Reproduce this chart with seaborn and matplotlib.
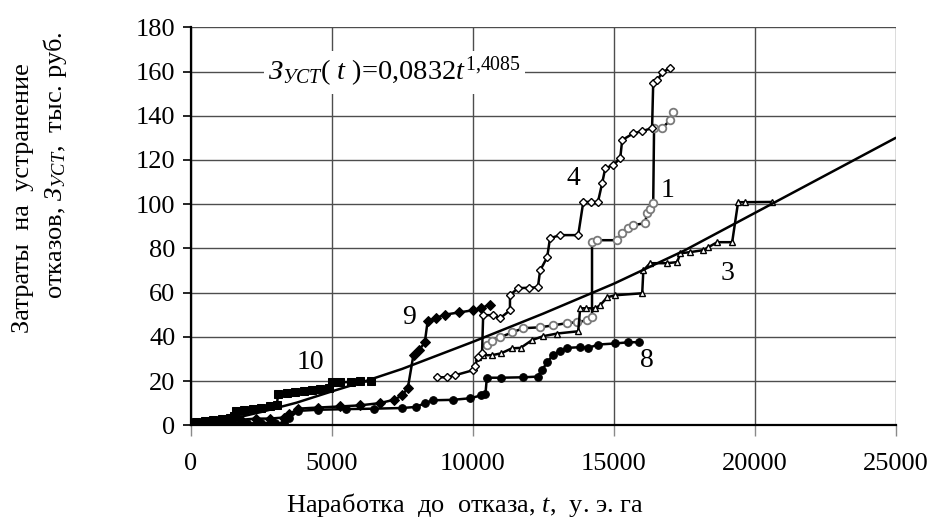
import matplotlib
matplotlib.use("Agg")
import matplotlib.pyplot as plt
import seaborn as sns

# Operating time to failure (conv. units) and cumulative repair costs (thousand rub.)
x1 = [10500, 10700, 10970, 11400, 11790, 12390, 12860, 13350, 13700, 14060, 14230, 14230, 14410,
      15120, 15300, 15500, 15690, 16110, 16180, 16300, 16400, 16430, 16720, 17000, 17110]
y1 = [36.5, 38.0, 39.8, 42.0, 43.9, 44.3, 45.2, 46.2, 46.6, 47.5, 48.9, 82.8, 83.7,
      83.7, 86.9, 89.0, 90.5, 91.4, 95.9, 98.0, 100.5, 134.4, 134.4, 138.0, 141.6]

x3 = [10200, 10370, 10680, 11000, 11390, 11700, 12100, 12500, 13000, 13740, 13810, 14000, 14340,
      14520, 14770, 15050, 16010, 16050, 16290, 16890, 17250, 17360, 17710, 18170, 18350,
      18670, 19200, 19410, 19660, 20600]
y3 = [30.8, 31.7, 31.7, 32.5, 34.8, 35.0, 38.5, 40.3, 41.5, 42.5, 52.9, 52.9, 52.9,
      54.3, 57.9, 58.8, 59.7, 70.0, 73.3, 73.3, 73.8, 77.8, 78.3, 79.2, 80.5,
      82.8, 82.8, 100.9, 100.9, 101.0]

x4 = [8730, 9080, 9370, 10010, 10080, 10190, 10330, 10370, 10720, 10970, 11320, 11320,
      11600, 12000, 12310, 12390, 12640, 12740, 13100, 13740, 13920, 14200, 14440, 14590,
      14700, 14980, 15230, 15300, 15690, 16000, 16360, 16400, 16550, 16720, 17000]
y4 = [21.7, 21.7, 22.6, 24.9, 27.0, 30.8, 32.6, 49.8, 49.8, 48.4, 52.0, 58.8,
      62.0, 62.2, 62.4, 70.0, 76.0, 84.6, 86.0, 86.0, 101.0, 101.0, 101.0, 109.5,
      116.3, 117.6, 120.8, 129.0, 132.0, 133.0, 134.4, 155.0, 156.0, 159.7, 161.5]

x8 = [400, 900, 1500, 2000, 2500, 3000, 3300, 3500, 3800, 4500, 5500, 6500, 7500, 8000,
      8300, 8600, 9300, 9900, 10300, 10450, 10500, 11000, 11800, 12300, 12450, 12650,
      12850, 13100, 13350, 13800, 14100, 14450, 15050, 15500, 15900]
y8 = [1.0, 1.5, 1.0, 0.8, 1.0, 1.0, 1.0, 3.5, 6.5, 7.0, 7.3, 7.5, 7.8, 8.3,
      10.0, 11.3, 11.5, 12.2, 13.5, 14.0, 21.5, 21.5, 21.7, 22.0, 25.0, 28.5,
      32.0, 33.5, 35.0, 35.3, 35.0, 36.5, 37.0, 37.5, 37.6]

x9 = [300, 800, 1300, 1800, 2300, 2800, 3300, 3500, 3800, 4500, 5300, 6000, 6700, 7200,
      7500, 7700, 7900, 8100, 8300, 8400, 8700, 9000, 9500, 10000, 10300, 10600]
y9 = [1.0, 1.5, 2.0, 2.5, 3.0, 3.0, 3.5, 5.0, 7.5, 8.0, 8.5, 9.0, 10.0, 11.5,
      13.5, 17.0, 32.0, 34.0, 37.5, 47.0, 48.5, 50.0, 51.0, 52.0, 53.0, 54.5]

x10 = [200, 500, 800, 1100, 1400, 1550, 1600, 1900, 2200, 2500, 2800, 3050, 3100, 3400,
       3700, 4000, 4300, 4600, 4900, 5000, 5300, 5700, 6000, 6400]
y10 = [1.5, 2.0, 2.5, 3.0, 3.5, 4.0, 6.5, 7.0, 7.5, 8.0, 8.5, 9.0, 14.0, 14.5,
       15.0, 15.5, 16.0, 16.5, 17.0, 19.5, 19.5, 19.5, 19.8, 19.8]

# Power-law trend curve
t_trend = [0, 1250, 2500, 3750, 5000, 6250, 7500, 10000, 12500, 15000, 17500, 20000, 22500, 25000]
z_trend = [0, 2.3, 6.0, 10.2, 15.3, 20.2, 25.5, 37.7, 50.5, 64.0, 79.0, 96.0, 113.0, 130.0]

series_names = ["1", "3", "4", "8", "9", "10"]
label_x = [16926, 19018, 13557, 16181, 7741, 4231]
label_y = [106.3, 68.8, 111.8, 29.4, 48.9, 28.5]

sns.set_theme(style="white")
plt.rcParams["font.family"] = ["Liberation Serif", "DejaVu Serif"]
plt.rcParams["mathtext.fontset"] = "custom"
plt.rcParams["mathtext.rm"] = "Liberation Serif"
plt.rcParams["mathtext.it"] = "Liberation Serif:italic"

fig = plt.figure(figsize=(9.35, 5.25), dpi=100)
ax = fig.add_axes([0.204, 0.190, 0.754, 0.758])

styles = [
    (x1, y1, dict(marker="o", markersize=5.5, markerfacecolor="white", markeredgecolor="#7a7a7a", markeredgewidth=1.3)),
    (x3, y3, dict(marker="^", markersize=5, markerfacecolor="white", markeredgecolor="black", markeredgewidth=1.0)),
    (x4, y4, dict(marker="D", markersize=4, markerfacecolor="white", markeredgecolor="black", markeredgewidth=1.0)),
    (x8, y8, dict(marker="o", markersize=5.5, markerfacecolor="black", markeredgecolor="black")),
    (x9, y9, dict(marker="D", markersize=5, markerfacecolor="black", markeredgecolor="black")),
    (x10, y10, dict(marker="s", markersize=5.5, markerfacecolor="black", markeredgecolor="black")),
]
for xs, ys, kw in styles:
    sns.lineplot(x=xs, y=ys, ax=ax, estimator=None, sort=False, color="black",
                 linewidth=1.8, zorder=3, **kw)

sns.lineplot(x=t_trend, y=z_trend, ax=ax, estimator=None, sort=False,
             color="black", linewidth=1.8, zorder=4)

ax.set_xlim(0, 25000)
ax.set_ylim(0, 180)
ax.set_xticks(range(0, 25001, 5000))
ax.set_yticks(range(0, 181, 20))
ax.grid(True, color="#4d4d4d", linewidth=1.0)
ax.set_axisbelow(True)
for side in ("top", "right"):
    ax.spines[side].set_visible(False)
for side in ("left", "bottom"):
    ax.spines[side].set_color("black")
    ax.spines[side].set_linewidth(1.6)
ax.tick_params(axis="y", left=True, direction="out", length=6, width=1.2,
               color="black", labelsize=19, pad=5, labelcolor="black")
ax.tick_params(axis="x", bottom=True, direction="out", length=8, width=1.0,
               color="#8a8a8a", labelsize=19, pad=12, labelcolor="black")

for name, lx, ly in zip(series_names, label_x, label_y):
    ax.text(lx, ly, name, fontsize=20, ha="center", va="center", color="black", zorder=5)

ax.text(2740, 159.7,
        r"$\mathit{З}_{\mathit{УСТ}}(\ \mathit{t}\ )$=0,0832$\mathit{t}^{\mathrm{1{,}4085}}$",
        fontsize=20.5, ha="left", va="center", color="black", zorder=5,
        bbox=dict(facecolor="white", edgecolor="none", pad=3))

fig.text(0.497, 1 - 505 / 525, r"Наработка  до  отказа, $\mathit{t}$,  у. э. га",
         fontsize=19, ha="center", va="center", color="black")
fig.text(0.025, 1 - 198 / 525, "Затраты  на  устранение",
         fontsize=19, ha="center", va="center", rotation=90, color="black")
fig.text(0.059, 1 - 165 / 525, r"отказов, $\mathit{З}_{\mathit{УСТ}}$,  тыс. руб.",
         fontsize=19, ha="center", va="center", rotation=90, color="black")

fig.savefig("out.png", dpi=100)
